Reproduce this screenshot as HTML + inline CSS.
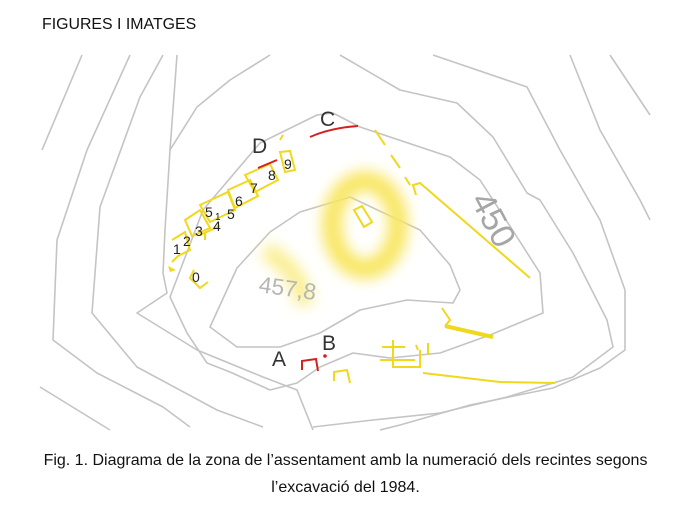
<!DOCTYPE html>
<html><head><meta charset="utf-8"><style>
html,body{margin:0;padding:0;background:#fff;width:691px;height:512px;overflow:hidden;font-family:"Liberation Sans",Arial,sans-serif;}
.h{position:absolute;left:42px;top:16px;font-size:15.9px;color:#111;}
.cap{position:absolute;left:0;width:691px;text-align:center;font-size:16px;color:#111;}
svg{position:absolute;left:0;top:0;}
</style></head><body>
<div class="h">FIGURES I IMATGES</div>
<svg width="691" height="512" viewBox="0 0 691 512">
<defs>
<filter id="b" x="-50%" y="-50%" width="200%" height="200%"><feGaussianBlur stdDeviation="7"/></filter>
</defs>
<g fill="none" stroke="#c4c4c4" stroke-width="1.6" stroke-linejoin="round">
<polyline points="82,55 42,150"/>
<polyline points="130,55 87,150 57,240 53,340 97,373 163,407 190,427"/>
<polyline points="163,55 140,97 100,207 92,313 137,367 217,410 263,427"/>
<polyline points="177,55 170,150 165,230 163,273 167,293 137,313 197,350 263,377 297,390 313,430"/>
<polyline points="270,55 230,80 197,107 170,150"/>
<polyline points="40,387 110,430"/>
<polyline points="340,55 400,90 457,103 493,137 527,193 540,200 573,253 607,320 613,347 573,377 507,397 440,413 373,420 313,427"/>
<polyline points="433,55 527,87 560,150 600,220 625,290 625,350 600,368 553,388 470,405 400,425 380,430"/>
<polyline points="570,55 600,130 640,200 650,220"/>
<polyline points="610,55 650,115"/>
<path d="M170,297 L203,210 L260,143 L317,115 L333,113 L360,127 L450,157 L480,180 L517,237 L540,273 L543,313 L490,335 L440,353 L390,358 L353,353 L320,367 L297,383 L270,390 L230,372 L207,363 L187,333 Z"/>
<path d="M210,327 L237,268 L270,232 L300,212 L350,197 L420,230 L450,265 L460,290 L453,303 L407,300 L360,310 L320,333 L280,347 L237,347 Z"/>
</g>
<g filter="url(#b)">
<ellipse cx="365" cy="225" rx="33" ry="44" fill="none" stroke="#f8e660" stroke-width="20"/>
<path d="M265,250 Q300,270 305,305" stroke="#faee90" stroke-width="18" fill="none"/>
</g>
<text transform="translate(470,200) rotate(62)" font-size="34" fill="#a6a6a6">450</text>
<text x="258" y="292" transform="rotate(8 258 292)" font-size="23" fill="#b6b6b6">457,8</text>
<g fill="none" stroke="#f0d81c" stroke-width="2">
<path d="M375,130 L385,145 M391,155 L400,168 M405,177 L410,185"/>
<path d="M416,195 L413,185 L420,183 L530,278"/>
<path d="M354,210 L362,206 L372,222 L364,227 Z"/>
<path d="M442,308 L450,320 L445,326"/>
<path d="M445,326 L493,337" stroke-width="4"/>
<path d="M382,347 L405,347 M380,360 L415,360 M393,340 L393,367 L420,367 L420,350 M416,345 L418,350 M428,343 L428,355"/>
<path d="M423,373 L500,382 L555,383"/>
<path d="M334,381 L334,372 L347,370 L350,383"/>
<path d="M283,135 L280,140"/>
<path d="M280,152 L290,151 L295,170 L285,172 Z"/>
<path d="M245,175 L270,164 L278,180 L255,192 Z"/>
<path d="M228,190 L250,180 L258,196 L235,208 Z"/>
<path d="M200,205 L228,192 L235,210 L210,222 Z"/>
<path d="M185,220 L200,210 L210,228 L192,236 Z"/>
<path d="M172,240 L185,232 L190,250 L178,256 L172,262"/>
<path d="M194,270 L190,278 L200,288 L208,282"/>
<path d="M200,235 L220,226 M205,232 L205,240"/>
</g>
<path d="M168,266 L176,270 L170,272 Z" fill="#f0d81c"/>
<g fill="none" stroke="#d42020" stroke-width="2">
<path d="M310,137 Q330,128 358,126"/>
<path d="M258,168 L277,160"/>
<path d="M302,370 L302,361 L316,359 L318,371"/>
</g>
<circle cx="325" cy="356" r="1.8" fill="#d42020"/>
<g fill="#222" font-size="14">
<text x="173" y="254">1</text><text x="183" y="246">2</text><text x="195" y="236">3</text>
<text x="205" y="217">5</text><text x="215" y="220" font-size="10">1</text><text x="213" y="231">4</text>
<text x="227" y="219">5</text><text x="235" y="206">6</text><text x="250" y="193">7</text>
<text x="268" y="180">8</text><text x="284" y="169">9</text><text x="192" y="282">0</text>
</g>
<g fill="#333" font-size="21">
<text x="252" y="153">D</text><text x="320" y="126">C</text>
<text x="272" y="366">A</text><text x="322" y="350">B</text>
</g>
</svg>
<div class="cap" style="top:452px">Fig. 1. Diagrama de la zona de l’assentament amb la numeració dels recintes segons</div>
<div class="cap" style="top:479px">l’excavació del 1984.</div>
</body></html>
